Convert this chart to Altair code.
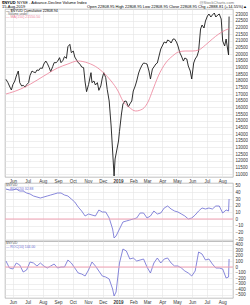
import altair as alt
import pandas as pd

FONT = "Liberation Sans"

# ---------------- data ----------------
cum_dates = [
    "2018-05-18", "2018-05-22", "2018-05-25", "2018-05-29", "2018-06-01", "2018-06-05", "2018-06-08",
    "2018-06-12", "2018-06-15", "2018-06-19", "2018-06-22", "2018-06-26", "2018-06-29", "2018-07-03",
    "2018-07-06", "2018-07-10", "2018-07-13", "2018-07-17", "2018-07-20", "2018-07-24", "2018-07-27",
    "2018-07-31", "2018-08-03", "2018-08-07", "2018-08-10", "2018-08-14", "2018-08-17", "2018-08-21",
    "2018-08-24", "2018-08-28", "2018-08-31", "2018-09-04", "2018-09-07", "2018-09-11", "2018-09-14",
    "2018-09-18", "2018-09-21", "2018-09-25", "2018-09-28", "2018-10-02", "2018-10-05", "2018-10-09",
    "2018-10-12", "2018-10-16", "2018-10-19", "2018-10-23", "2018-10-26", "2018-10-29", "2018-11-02",
    "2018-11-07", "2018-11-09", "2018-11-13", "2018-11-16", "2018-11-20", "2018-11-23", "2018-11-27",
    "2018-11-30", "2018-12-03", "2018-12-07", "2018-12-10", "2018-12-14", "2018-12-18", "2018-12-21",
    "2018-12-24", "2018-12-26", "2018-12-28", "2019-01-02", "2019-01-04", "2019-01-08", "2019-01-11",
    "2019-01-15", "2019-01-18", "2019-01-22", "2019-01-25", "2019-01-29", "2019-02-01", "2019-02-05",
    "2019-02-08", "2019-02-12", "2019-02-15", "2019-02-19", "2019-02-22", "2019-02-26", "2019-03-01",
    "2019-03-05", "2019-03-08", "2019-03-12", "2019-03-15", "2019-03-19", "2019-03-22", "2019-03-26",
    "2019-03-29", "2019-04-02", "2019-04-05", "2019-04-09", "2019-04-12", "2019-04-16", "2019-04-19",
    "2019-04-23", "2019-04-26", "2019-04-30", "2019-05-03", "2019-05-07", "2019-05-10", "2019-05-14",
    "2019-05-17", "2019-05-21", "2019-05-24", "2019-05-28", "2019-05-31", "2019-06-04", "2019-06-07",
    "2019-06-11", "2019-06-14", "2019-06-18", "2019-06-21", "2019-06-25", "2019-06-28", "2019-07-02",
    "2019-07-05", "2019-07-09", "2019-07-12", "2019-07-16", "2019-07-19", "2019-07-23", "2019-07-26",
    "2019-07-30", "2019-08-02", "2019-08-06", "2019-08-09", "2019-08-12", "2019-08-14", "2019-08-15",
]
cum_values = [
    18100, 17850, 17600, 17300, 17700, 17975, 18350,
    18725, 17850, 17600, 17650, 17525, 17700, 17850,
    18400, 18725, 18650, 18600, 18800, 18775, 18950,
    18925, 19250, 19475, 19300, 18975, 18675, 19050,
    19350, 19350, 19450, 19725, 19350, 19525, 19800,
    19675, 20550, 20725, 20100, 20225, 19775, 19525,
    19350, 19225, 19025, 18975, 17900, 17175, 17700,
    18600, 17850, 17975, 17675, 17850, 17275, 17600,
    18200, 18600, 18225, 17350, 16475, 14600, 12725,
    10850, 12125, 12500, 13475, 14200, 15500, 16250,
    16475, 16450, 16025, 16250, 16475, 17225, 17600,
    17975, 18575, 18875, 19175, 19325, 19290, 19250,
    18725, 18125, 18875, 19025, 19250, 19325, 19925,
    20375, 20675, 20900, 20825, 21050, 20975, 20825,
    21125, 21125, 20900, 20600, 20075, 19850, 19475,
    19700, 19625, 19100, 18725, 18125, 19325, 19625,
    19850, 20225, 21875, 22175, 21950, 22475, 22850,
    23000, 22775, 22925, 23075, 22775, 22925, 23000,
    22625, 20975, 20600, 21125, 20375, 19925, 22809,
]
ma_dates = [
    "2018-05-18", "2018-06-17", "2018-07-07", "2018-08-03", "2018-08-31", "2018-09-21",
    "2018-10-11", "2018-11-01", "2018-11-21", "2018-12-03", "2018-12-18", "2019-01-01",
    "2019-01-11", "2019-01-23", "2019-02-06", "2019-02-20", "2019-03-04", "2019-03-12",
    "2019-03-24", "2019-04-08", "2019-04-22", "2019-05-04", "2019-05-18", "2019-06-02",
    "2019-06-14", "2019-06-28", "2019-07-12", "2019-07-25", "2019-08-08", "2019-08-15",
]
ma_values = [
    17000, 17375, 17750, 18350, 18950, 19250,
    19475, 19325, 18950, 18575, 17975, 17225,
    16475, 16025, 15725, 15875, 16475, 17225,
    18350, 19325, 19850, 20150, 20225, 20225,
    20300, 20675, 21125, 21500, 21800, 21900,
]
ind_dates = [
    "2018-05-18", "2018-05-25", "2018-06-01", "2018-06-08", "2018-06-15", "2018-06-22", "2018-06-29",
    "2018-07-06", "2018-07-13", "2018-07-20", "2018-07-27", "2018-08-03", "2018-08-10", "2018-08-17",
    "2018-08-24", "2018-08-31", "2018-09-07", "2018-09-14", "2018-09-21", "2018-09-28", "2018-10-05",
    "2018-10-12", "2018-10-19", "2018-10-26", "2018-11-02", "2018-11-09", "2018-11-16", "2018-11-23",
    "2018-11-30", "2018-12-07", "2018-12-14", "2018-12-21", "2018-12-24", "2018-12-28", "2019-01-04",
    "2019-01-11", "2019-01-18", "2019-01-25", "2019-02-01", "2019-02-08", "2019-02-15", "2019-02-22",
    "2019-03-01", "2019-03-08", "2019-03-15", "2019-03-22", "2019-03-29", "2019-04-05", "2019-04-12",
    "2019-04-19", "2019-04-26", "2019-05-03", "2019-05-10", "2019-05-17", "2019-05-24", "2019-05-31",
    "2019-06-07", "2019-06-14", "2019-06-21", "2019-06-28", "2019-07-05", "2019-07-12", "2019-07-19",
    "2019-07-26", "2019-08-02", "2019-08-09", "2019-08-14", "2019-08-15",
]
roc_a = [
    45, 43.5, 43.5, 45, 42, 42, 39,
    37.5, 34.5, 33, 31.5, 33, 34.5, 36,
    37.5, 39, 39, 36, 34.5, 30, 25.5,
    18, 12, 4.5, 7.5, 6, 4.5, 13.5,
    10.5, 10.5, 1.5, -15, -28.5, -25.5, -15,
    -4.5, -3, -1.5, 0, 1.5, 9, 9,
    1.5, 4.5, 12, 7.5, 9, 16.5, 19.5,
    15, 12, 10.5, 7.5, 4.5, 0, 1.5,
    6, 12, 16.5, 15, 16.5, 15, 19.5,
    19.5, 9, 13.5, 12, 30,
]
roc_b = [
    108, -18, -36, 72, 36, -90, -54,
    90, 72, 18, 72, 18, -18, 18,
    54, -18, 0, 0, 126, 72, -18,
    -108, -126, -162, -54, 90, 18, -72,
    -162, -180, -216, -396, -522, -450, 72,
    324, 288, 144, 162, 108, 126, 144,
    0, -108, 72, 162, 72, 144, 162,
    72, 18, 18, -18, -72, -108, -162,
    -72, 270, 234, 126, 144, 54, -18,
    -18, -36, -198, -180, 144,
]
main_ticks = list(range(11000, 23001, 500))
roc_a_ticks = [-30, -20, -10, 0, 10, 20, 30, 40, 50]
roc_b_ticks = [-500, -400, -300, -200, -100, 0, 100, 200, 300, 400]

df_cum = pd.DataFrame({"date": cum_dates, "cum": cum_values})
df_ma = pd.DataFrame({"date": ma_dates, "ma": ma_values})
df_ind = pd.DataFrame({"date": ind_dates, "ra": roc_a, "rb": roc_b})

# ---------------- styling ----------------
W = 228
BLACK = "#1a1a1a"
PINK = "#ec8098"
ZERO = "#f2a2b4"
PURPLE = "#6a6ad2"
GRID = "#e4e4e4"
LBL = 4.5

xdom = [alt.DateTime(year=2018, month=5, date=16, utc=True),
        alt.DateTime(year=2019, month=8, date=23, utc=True)]
xscale = alt.Scale(type="utc", domain=xdom)
month_expr = "utcmonth(datum.value)==0 ? utcFormat(datum.value,'%Y') : utcFormat(datum.value,'%b')"


def xaxis(show_labels):
    kw = dict(title=None, tickCount={"interval": "month", "step": 1}, grid=True,
              gridColor=GRID, gridWidth=0.6, ticks=False, domain=False)
    if show_labels:
        kw.update(labelExpr=month_expr, labelFontSize=LBL, labelFont=FONT, labelColor="#333",
                  labelPadding=1.5, labelOverlap=False, labelFlush=False,
                  labelFontWeight=alt.condition("utcmonth(datum.value)==0", alt.value("bold"), alt.value("normal")))
    else:
        kw.update(labels=False)
    return alt.Axis(**kw)


def yaxis(vals):
    return alt.Axis(title=None, orient="right", values=vals, format="d", grid=True,
                    gridColor=GRID, gridWidth=0.6, ticks=False, domain=False,
                    labelFontSize=LBL, labelFont=FONT, labelColor="#333", labelPadding=2,
                    labelOverlap=False, labelFlush=False, labelSeparation=0, labelBound=False)


def label(text, x, y, color="#000", size=3.6, weight="normal", align="left"):
    return alt.Chart(alt.Data(values=[{}])).mark_text(
        text=text, align=align, baseline="middle", fontSize=size, font=FONT,
        color=color, fontWeight=weight
    ).encode(x=alt.value(x), y=alt.value(y))


main_y = alt.Scale(domain=[10775, 23375], nice=False, zero=False)
a_y = alt.Scale(domain=[-33, 54], nice=False, zero=False)
b_y = alt.Scale(domain=[-558, 468], nice=False, zero=False)

# ---------------- main panel ----------------
price = alt.Chart(df_cum).mark_line(color=BLACK, strokeWidth=0.9).encode(
    x=alt.X("date:T", scale=xscale, axis=xaxis(True)),
    y=alt.Y("cum:Q", scale=main_y, axis=yaxis(main_ticks)),
)
ma = alt.Chart(df_ma).mark_line(color=PINK, strokeWidth=0.8, interpolate="monotone").encode(
    x=alt.X("date:T", scale=xscale, axis=xaxis(True)),
    y=alt.Y("ma:Q", scale=main_y, axis=yaxis(main_ticks)),
)
main = alt.layer(
    price, ma,
    label("$NYUD", -3, -6, weight="bold", size=4),
    label("NYSE - Advance-Decline Volume Index", 12, -6, size=4),
    label("@StockCharts.com", 229, -6, color="#777", size=4, align="right"),
    label("15-Aug-2019", -3, -2.2, size=4),
    label("Open 22808.95  High 22808.95  Low 22808.95  Close 22808.95  Chg +2888.81 (+14.55%)\u25b2", 242, -2.2,
          size=4, align="right"),
    label("\u2014 $NYUD Cumulative 22808.94", 1, 2),
    label("Volume undef", 3, 5.2, color="#666", size=3.2),
    label("\u2014 MA(150) 21550.50", 1, 8.4, color=PINK),
).resolve_axis(y="shared").properties(width=W, height=168)

# ---------------- indicator panel 1 ----------------
p1 = alt.layer(
    alt.Chart(df_ind).mark_line(color=PURPLE, strokeWidth=0.8).encode(
        x=alt.X("date:T", scale=xscale, axis=xaxis(False)),
        y=alt.Y("ra:Q", scale=a_y, axis=yaxis(roc_a_ticks)),
    ),
    alt.Chart(alt.Data(values=[{}])).mark_rule(color=ZERO, strokeWidth=1).encode(
        y=alt.Y(datum=0, scale=a_y, axis=yaxis(roc_a_ticks))),
    label("$NYUD", 1, 2.2, color="#555", size=3.4),
    label("\u2014 ROC(20) 32.88", 1, 5.6, color=PURPLE, size=3.4),
).properties(width=W, height=58)

# ---------------- indicator panel 2 ----------------
p2 = alt.layer(
    alt.Chart(df_ind).mark_line(color=PURPLE, strokeWidth=0.8).encode(
        x=alt.X("date:T", scale=xscale, axis=xaxis(True)),
        y=alt.Y("rb:Q", scale=b_y, axis=yaxis(roc_b_ticks)),
    ),
    alt.Chart(alt.Data(values=[{}])).mark_rule(color=ZERO, strokeWidth=1).encode(
        y=alt.Y(datum=0, scale=b_y, axis=yaxis(roc_b_ticks))),
    label("$NYUD", 1, 2.2, color="#555", size=3.4),
    label("\u2014 ROC(10) 144.00", 1, 5.6, color=PURPLE, size=3.4),
).properties(width=W, height=57)

chart = alt.vconcat(
    main,
    alt.vconcat(p1, p2, spacing=0, bounds="flush"),
    spacing=6, bounds="flush",
).properties(
    padding={"left": 1, "top": 0, "right": 0, "bottom": 0},
    background="white",
).configure_view(stroke="#a8a8a8", strokeWidth=0.7).configure_axis(labelOverlap=False)

chart.save("out.html", embed_options={"renderer": "svg", "actions": False})
